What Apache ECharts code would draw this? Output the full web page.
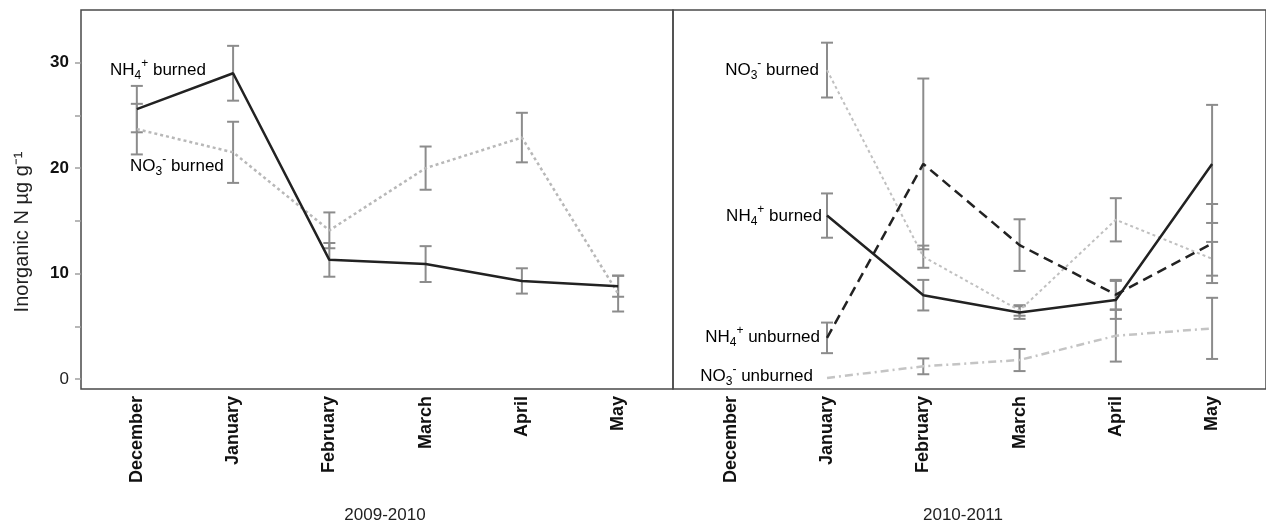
<!DOCTYPE html>
<html>
<head>
<meta charset="utf-8">
<script src="https://cdn.jsdelivr.net/npm/echarts@6/dist/echarts.min.js"></script>
<style>
html,body{margin:0;padding:0;background:#fff;}
#chart{width:1266px;height:527px;}
</style>
</head>
<body>
<div id="chart"></div>
<script>
// ---- data ----
const months = ['December', 'January', 'February', 'March', 'April', 'May'];
const yTicks = [0, 5, 10, 15, 20, 25, 30];
const yLabels = [0, 10, 20, 30];
const seasons = ['2009-2010', '2010-2011'];
const yTitle = 'Inorganic N µg g\u207B\u00B9';

// 2009-2010
const nh4Burned09 = [25.6, 29.0, 11.3, 10.9, 9.3, 8.8];
const nh4Burned09Err = [2.2, 2.6, 1.6, 1.7, 1.2, 1.0];
const no3Burned09 = [23.7, 21.5, 14.1, 20.0, 22.9, 8.1];
const no3Burned09Err = [2.4, 2.9, 1.7, 2.05, 2.35, 1.7];

// 2010-2011
const nh4Burned10 = [null, 15.5, 7.95, 6.3, 7.5, 20.4];
const nh4Burned10Err = [null, 2.1, 1.45, 0.6, 1.8, 5.6];
const no3Burned10 = [null, 29.3, 11.6, 6.5, 15.1, 11.4];
const no3Burned10Err = [null, 2.6, 1.05, 0.5, 2.05, 1.6];
const nh4Unburned10 = [null, 3.9, 20.4, 12.7, 8.0, 12.85];
const nh4Unburned10Err = [null, 1.45, 8.1, 2.45, 1.4, 3.75];
const no3Unburned10 = [null, 0.1, 1.2, 1.8, 4.1, 4.8];
const no3Unburned10Err = [null, 0, 0.75, 1.05, 2.45, 2.9];

// ---- helpers ----
const FONT = 'Liberation Sans, Arial, sans-serif';
function pts(vals) {
  const out = [];
  vals.forEach((v, i) => { if (v !== null) out.push([i, v]); });
  return out;
}
function errPts(vals, errs) {
  const out = [];
  vals.forEach((v, i) => { if (v !== null && errs[i]) out.push([i, v, errs[i]]); });
  return out;
}
function errSeries(vals, errs, gi) {
  return {
    type: 'custom',
    xAxisIndex: gi, yAxisIndex: gi,
    z: 1,
    silent: true,
    data: errPts(vals, errs),
    renderItem: function (params, api) {
      const x = api.value(0), y = api.value(1), e = api.value(2);
      const top = api.coord([x, y + e]);
      const bot = api.coord([x, y - e]);
      const w = 6;
      const st = { stroke: '#8c8c8c', lineWidth: 2 };
      return {
        type: 'group',
        children: [
          { type: 'line', shape: { x1: top[0], y1: top[1], x2: bot[0], y2: bot[1] }, style: st },
          { type: 'line', shape: { x1: top[0] - w, y1: top[1], x2: top[0] + w, y2: top[1] }, style: st },
          { type: 'line', shape: { x1: bot[0] - w, y1: bot[1], x2: bot[0] + w, y2: bot[1] }, style: st }
        ]
      };
    }
  };
}
function lineSeries(name, vals, gi, color, width, dash) {
  return {
    name: name, type: 'line', xAxisIndex: gi, yAxisIndex: gi,
    z: 3, symbol: 'none', silent: true,
    data: pts(vals),
    lineStyle: { color: color, width: width, type: dash }
  };
}
const rich = {
  n: { fontSize: 17, fontFamily: FONT, color: '#111', lineHeight: 24 },
  sub: { fontSize: 12, fontFamily: FONT, color: '#111', verticalAlign: 'bottom', lineHeight: 24 },
  sup: { fontSize: 12, fontFamily: FONT, color: '#111', verticalAlign: 'top', lineHeight: 24 }
};
function chem(ion, sub, sup, rest) {
  return '{n|' + ion + '}{sub|' + sub + '}{sup|' + sup + '}{n|' + rest + '}';
}
function label(x, y, txt, align) {
  return {
    type: 'text', x: x, y: y, z: 10,
    style: { text: txt, rich: rich, align: align, verticalAlign: 'middle' }
  };
}

const chart = echarts.init(document.getElementById('chart'), null, { renderer: 'canvas' });

const grids = [
  { left: 81, top: 10, width: 592, height: 379 },
  { left: 673, top: 10, width: 594, height: 379 }
];
grids.forEach(g => { g.show = true; g.borderColor = '#4a4a4a'; g.borderWidth = 1.5; g.backgroundColor = 'transparent'; });

function xAxis(gi, min, max) {
  return {
    type: 'value', gridIndex: gi, min: min, max: max,
    axisLine: { show: false, onZero: false }, axisTick: { show: false }, splitLine: { show: false },
    axisLabel: {
      customValues: months.map((m, i) => i),
      formatter: v => months[Math.round(v)],
      rotate: 90, margin: 7,
      fontSize: 18, fontWeight: 'bold', color: '#111',
      fontFamily: FONT
    }
  };
}
function yAxis(gi, show) {
  return {
    type: 'value', gridIndex: gi, min: -0.95, max: 35,
    show: show, position: 'left',
    axisLine: { show: false, onZero: false },
    splitLine: { show: false },
    axisTick: { show: true, length: 6, customValues: yTicks, lineStyle: { color: '#a0a0a0', width: 1.5 } },
    axisLabel: {
      customValues: yLabels, margin: 12,
      formatter: v => (v === 0 ? '{r|0}' : '{b|' + v + '}'),
      rich: {
        b: { fontSize: 17, fontWeight: 'bold', color: '#111', fontFamily: FONT },
        r: { fontSize: 17, color: '#222', fontFamily: FONT }
      }
    }
  };
}

const option = {
  backgroundColor: '#fff',
  animation: false,
  grid: grids,
  xAxis: [xAxis(0, -0.58, 5.57), xAxis(1, -0.6, 5.56)],
  yAxis: [yAxis(0, true), yAxis(1, false)],
  series: [
    errSeries(nh4Burned09, nh4Burned09Err, 0),
    errSeries(no3Burned09, no3Burned09Err, 0),
    lineSeries('NO3- burned', no3Burned09, 0, '#b8b8b8', 2.5, [3, 3]),
    lineSeries('NH4+ burned', nh4Burned09, 0, '#222', 2.5, 'solid'),

    errSeries(nh4Burned10, nh4Burned10Err, 1),
    errSeries(no3Burned10, no3Burned10Err, 1),
    errSeries(nh4Unburned10, nh4Unburned10Err, 1),
    errSeries(no3Unburned10, no3Unburned10Err, 1),
    lineSeries('NO3- unburned', no3Unburned10, 1, '#c4c4c4', 2.5, [8, 4, 2, 4]),
    lineSeries('NO3- burned', no3Burned10, 1, '#c0c0c0', 2, [3, 3]),
    lineSeries('NH4+ unburned', nh4Unburned10, 1, '#222', 2.5, [10, 6]),
    lineSeries('NH4+ burned', nh4Burned10, 1, '#222', 2.5, 'solid')
  ],
  graphic: [
    label(110, 70, chem('NH', '4', '+', ' burned'), 'left'),
    label(130, 166, chem('NO', '3', '-', ' burned'), 'left'),
    label(819, 70, chem('NO', '3', '-', ' burned'), 'right'),
    label(822, 216, chem('NH', '4', '+', ' burned'), 'right'),
    label(820, 337, chem('NH', '4', '+', ' unburned'), 'right'),
    label(813, 376, chem('NO', '3', '-', ' unburned'), 'right'),
    {
      type: 'text', x: 22, y: 232, rotation: Math.PI / 2, z: 10,
      style: { text: yTitle, fontSize: 20, fontFamily: FONT, fill: '#222', align: 'center', verticalAlign: 'middle' }
    },
    {
      type: 'text', x: 385, y: 515, z: 10,
      style: { text: seasons[0], fontSize: 17, fontFamily: FONT, fill: '#222', align: 'center', verticalAlign: 'middle' }
    },
    {
      type: 'text', x: 963, y: 515, z: 10,
      style: { text: seasons[1], fontSize: 17, fontFamily: FONT, fill: '#222', align: 'center', verticalAlign: 'middle' }
    }
  ]
};
chart.setOption(option);
</script>
</body>
</html>
